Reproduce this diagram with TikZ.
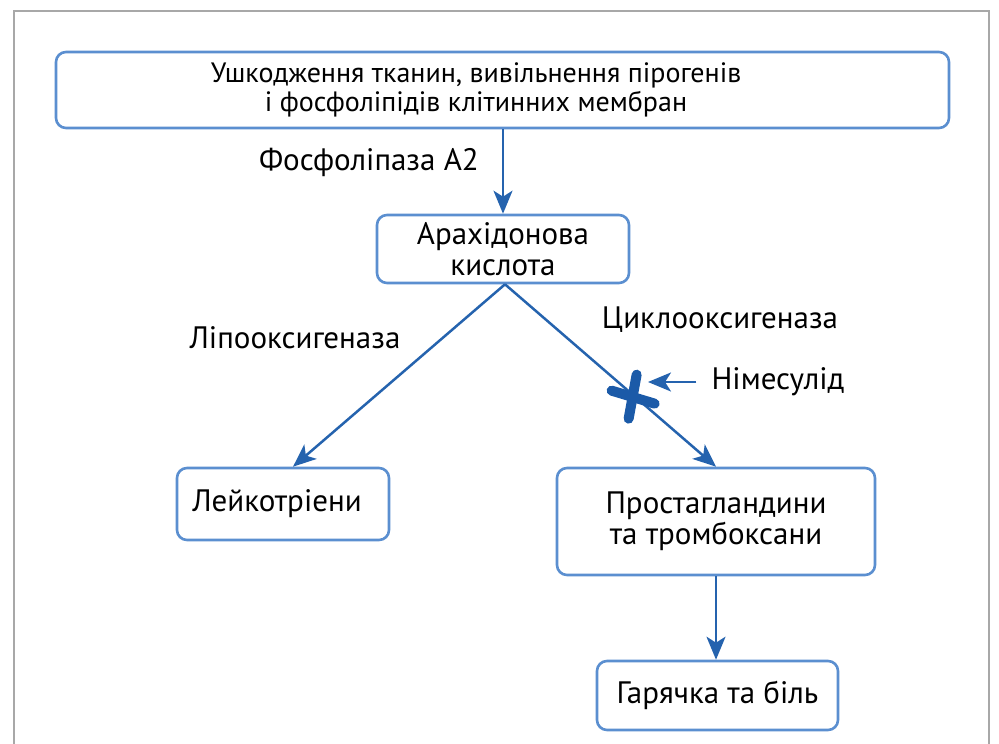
\documentclass[tikz,border=0pt]{standalone}
\usepackage{fontspec}
\setmainfont{PT Sans}
\usetikzlibrary{arrows.meta,calc}
\definecolor{boxblue}{HTML}{5B8FD0}
\definecolor{arrblue}{HTML}{2563AE}
\definecolor{xblue}{HTML}{1B5AA8}
\definecolor{framegray}{HTML}{A8A8A8}
\tikzset{
  box/.style={draw=boxblue, line width=2.6pt, rounded corners=10pt, fill=white,
    align=center, inner sep=0pt, font=\fontsize{31}{31}\selectfont},
  lbl/.style={inner sep=0pt, font=\fontsize{31}{31}\selectfont},
  arr/.style={draw=arrblue, line width=2.5pt,
    -{Stealth[length=23pt,width=19pt,inset=6pt]}},
  xmark/.style={draw=xblue, line width=10pt, line cap=round},
}
\begin{document}
\begin{tikzpicture}[x=1pt,y=-1pt]
\useasboundingbox (0,0) rectangle (999,744);
\draw[framegray, line width=1.6pt] (14,744) -- (14,11) -- (989,11) -- (989,744);

\node[box, minimum width=893pt, minimum height=76pt] (top) at (502.5,90) {};
\node[lbl, align=center, font=\fontsize{28}{29}\selectfont] (toptext) at (476,90) {Ушкодження тканин, вивільнення пірогенів\\і фосфоліпідів клітинних мембран};

\node[box, minimum width=252pt, minimum height=68pt] (arach) at (503,249) {Арахідонова\\кислота};
\node[box, minimum width=212pt, minimum height=72pt] (leuk) at (283,504) {\hspace*{-12pt}Лейкотріени};
\node[box, minimum width=318pt, minimum height=107pt] (prost) at (716,521.5) {Простагландини\\та тромбоксани};
\node[box, minimum width=241pt, minimum height=69pt] (fever) at (717.5,695.5) {Гарячка та біль};

\node[lbl, anchor=east] (phos) at (479,162) {Фосфоліпаза А2};
\node[lbl] (lipo) at (295,338) {Ліпооксигеназа};
\node[lbl] (cyclo) at (720,320) {Циклооксигеназа};
\node[lbl] (nim) at (778,382) {Німесулід};

\draw[arr] (top.south -| arach.north) -- (arach.north);
\draw[arr] ([xshift=2pt]arach.south) -- ([xshift=10pt]leuk.north);
\draw[arr] ([xshift=2pt]arach.south) -- (prost.north);
\draw[arr] (prost.south) -- (prost.south |- fever.north);

\coordinate (block) at ($([xshift=2pt]arach.south)!0.605!(prost.north)$);
\draw[xmark] ([shift={(4,-20)}]block) -- ([shift={(-4,24)}]block);
\draw[xmark] ([shift={(-21,-4)}]block) -- ([shift={(22,9)}]block);
\coordinate (blocktip) at (648,382);
\draw[arr] ([xshift=-15pt]nim.west) -- (blocktip);
\end{tikzpicture}
\end{document}
